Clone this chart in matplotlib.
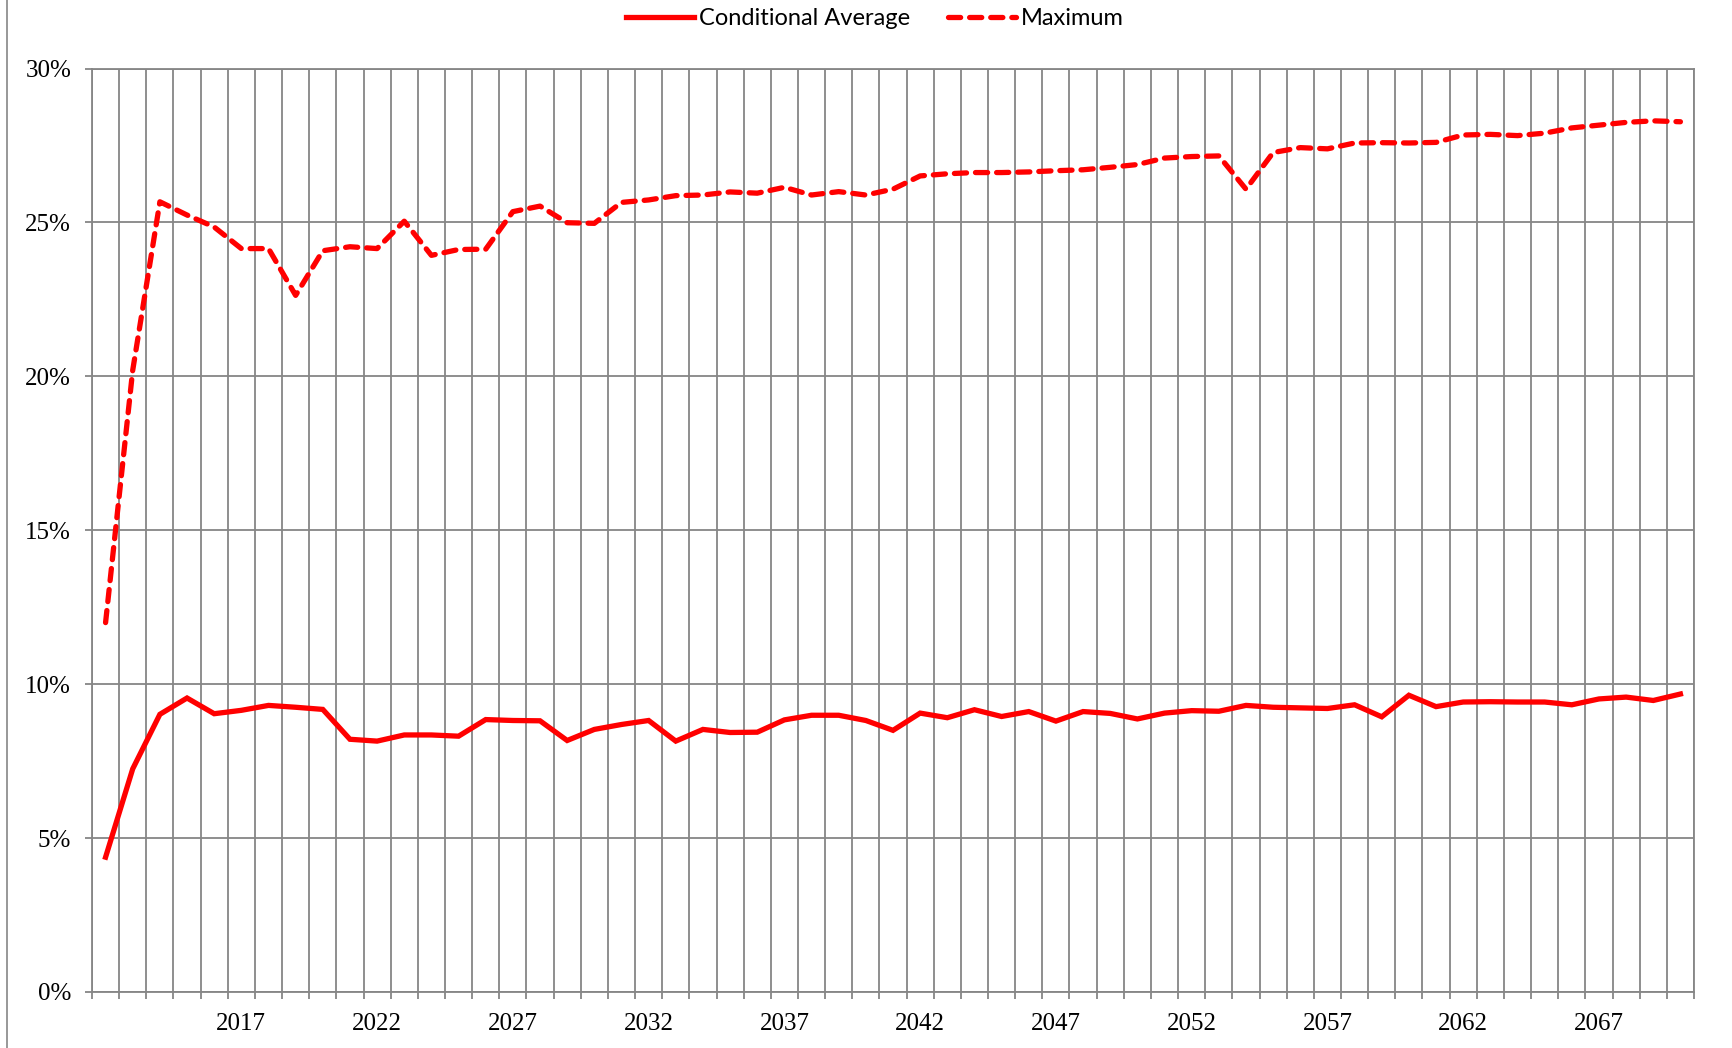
import numpy as np
import matplotlib
matplotlib.use("Agg")
import matplotlib.pyplot as plt
from matplotlib.lines import Line2D
from matplotlib.ticker import FixedLocator, FuncFormatter

# data (percent)
years = list(range(2012, 2071))
cond_avg = [4.38, 7.25, 9.02, 9.55, 9.04, 9.15, 9.31, 9.25, 9.18, 8.21,
            8.15, 8.35, 8.35, 8.31, 8.85, 8.82, 8.81, 8.17, 8.53, 8.69,
            8.82, 8.15, 8.53, 8.43, 8.44, 8.84, 8.99, 8.99, 8.82, 8.50,
            9.06, 8.91, 9.17, 8.95, 9.11, 8.80, 9.11, 9.05, 8.87, 9.06,
            9.14, 9.12, 9.31, 9.25, 9.23, 9.21, 9.33, 8.94, 9.64, 9.27,
            9.42, 9.43, 9.42, 9.42, 9.33, 9.52, 9.58, 9.47, 9.68]
maximum = [12.0, 20.2, 25.67, 25.24, 24.85, 24.15, 24.15, 22.63, 24.08, 24.21,
           24.15, 25.04, 23.93, 24.12, 24.13, 25.35, 25.53, 24.99, 24.97, 25.65,
           25.73, 25.87, 25.89, 25.99, 25.95, 26.14, 25.89, 26.00, 25.89, 26.08,
           26.51, 26.58, 26.62, 26.62, 26.64, 26.68, 26.71, 26.79, 26.88, 27.09,
           27.14, 27.16, 26.08, 27.27, 27.43, 27.39, 27.58, 27.59, 27.58, 27.60,
           27.84, 27.86, 27.82, 27.90, 28.07, 28.16, 28.25, 28.30, 28.27]
label_years = list(range(2017, 2068, 5))
y_ticks = [0, 5, 10, 15, 20, 25, 30]

W, H = 1732, 1048
fig = plt.figure(figsize=(W / 100, H / 100), dpi=100)
ax = fig.add_axes([92 / W, 1 - 992 / H, (1694 - 92) / W, (992 - 68.5) / H])

red = "#ff0000"
grid_col = "#868686"
serif = ["Liberation Serif", "DejaVu Serif"]

ax.plot(years, np.array(cond_avg) / 100, color=red, lw=3.8,
        solid_joinstyle="miter", label="Conditional Average")
ax.plot(years, np.array(maximum) / 100, color=red, lw=3.8,
        dashes=(2.3, 1.7), dash_capstyle="round", label="Maximum")

ax.set_xlim(years[0] - 0.5, years[-1] + 0.5)
ax.set_ylim(0, 0.30)

# category boundaries -> minor ticks + vertical grid
bounds = [y - 0.5 for y in years] + [years[-1] + 0.5]
ax.xaxis.set_minor_locator(FixedLocator(bounds))
ax.xaxis.set_major_locator(FixedLocator(label_years))
ax.set_xticklabels([str(y) for y in label_years])
ax.tick_params(axis="x", which="major", length=0, pad=15, labelsize=18)
ax.tick_params(axis="x", which="minor", length=5, width=1.3, color=grid_col)
ax.grid(True, axis="x", which="minor", color=grid_col, lw=1.3)

ax.yaxis.set_major_locator(FixedLocator([v / 100 for v in y_ticks]))
ax.yaxis.set_major_formatter(FuncFormatter(lambda v, p: f"{v * 100:.0f}%"))
ax.tick_params(axis="y", length=5, width=1.3, color=grid_col, pad=10, labelsize=18)
ax.grid(True, axis="y", which="major", color=grid_col, lw=1.3)
ax.set_axisbelow(True)

for lab in ax.get_xticklabels() + ax.get_yticklabels():
    lab.set_family(serif)

for side in ["top", "right", "left", "bottom"]:
    ax.spines[side].set_color(grid_col)
    ax.spines[side].set_linewidth(1.3)

# outer chart-area border on the left
fig.add_artist(Line2D([7.5 / W, 7.5 / W], [0, 1], color="#909090", lw=1.3))

fig.legend(loc="center", bbox_to_anchor=(0.505, 0.982), ncol=2, frameon=False,
           prop={"family": ["Lato", "DejaVu Sans"], "size": 17},
           handlelength=2.9, handletextpad=0.2, columnspacing=1.6)

fig.savefig("out.png", dpi=100, facecolor="white")
